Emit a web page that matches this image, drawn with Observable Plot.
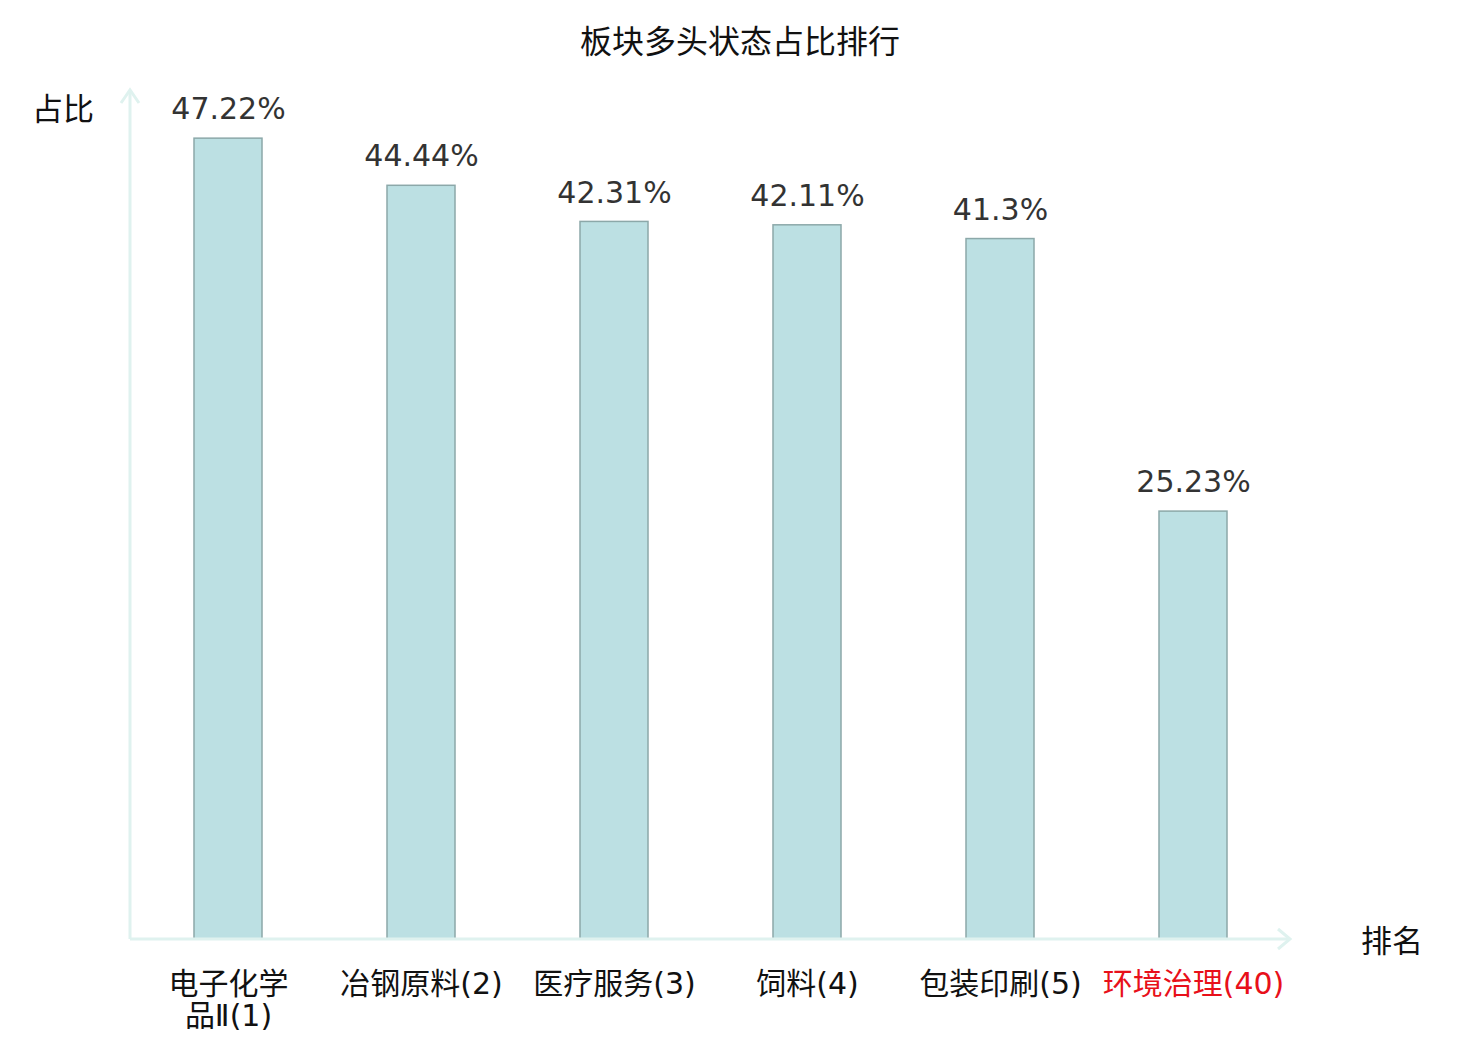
<!DOCTYPE html>
<html>
<head>
<meta charset="utf-8">
<script src="https://cdn.jsdelivr.net/npm/d3@7"></script>
<script src="https://cdn.jsdelivr.net/npm/@observablehq/plot@0.6"></script>
<style>
  html, body { margin: 0; padding: 0; background: #fff; }
  #title { height: 78px; display: flex; align-items: center; justify-content: center;
    font-family: "Noto Sans CJK SC", sans-serif; font-size: 32px; color: #111; width: 1480px; }
</style>
</head>
<body>
<div id="title">板块多头状态占比排行</div>
<div id="chart"></div>
<script>
const categories = ["电子化学品Ⅱ", "冶钢原料", "医疗服务", "饲料", "包装印刷", "环境治理"];
const ranks = [1, 2, 3, 4, 5, 40];
const tickLabels = ["电子化学\n品Ⅱ(1)", "冶钢原料(2)", "医疗服务(3)", "饲料(4)", "包装印刷(5)", "环境治理(40)"];
const values = [47.22, 44.44, 42.31, 42.11, 41.3, 25.23];
const valueLabels = ["47.22%", "44.44%", "42.31%", "42.11%", "41.3%", "25.23%"];

const data = categories.map((c, i) => ({
  name: c, rank: ranks[i], tick: tickLabels[i], value: values[i], label: valueLabels[i]
}));

const axisColor = "#dff2ef";

function axes(index, scales, values, dim) {
  const g = d3.create("svg:g");
  const x0 = dim.marginLeft, x1 = dim.width - dim.marginRight;
  const y0 = scales.y(0), yTop = scales.y(50) - 1;
  g.append("line").attr("x1", x0).attr("x2", x1).attr("y1", y0).attr("y2", y0)
    .attr("stroke", axisColor).attr("stroke-width", 3);
  g.append("line").attr("x1", x0).attr("x2", x0).attr("y1", y0).attr("y2", yTop)
    .attr("stroke", axisColor).attr("stroke-width", 3);
  g.append("path").attr("d", `M${x1 - 12},${y0 - 10}L${x1},${y0}L${x1 - 12},${y0 + 10}`)
    .attr("fill", "none").attr("stroke", axisColor).attr("stroke-width", 3);
  g.append("path").attr("d", `M${x0 - 9},${yTop + 13}L${x0},${yTop}L${x0 + 9},${yTop + 13}`)
    .attr("fill", "none").attr("stroke", axisColor).attr("stroke-width", 3);
  g.append("text").attr("x", x1 + 102).attr("y", y0 + 5).attr("text-anchor", "middle")
    .attr("dominant-baseline", "middle").attr("font-size", 31).attr("fill", "#111")
    .attr("font-family", "Noto Sans CJK SC").text("排名");
  g.append("text").attr("x", x0 - 67).attr("y", scales.y(50) + 21).attr("text-anchor", "middle")
    .attr("dominant-baseline", "middle").attr("font-size", 31).attr("fill", "#111")
    .attr("font-family", "Noto Sans CJK SC").text("占比");
  return g.node();
}

const chart = Plot.plot({
  width: 1480,
  height: 962,
  marginTop: 13,
  marginBottom: 101,
  marginLeft: 130,
  marginRight: 190,
  style: { fontFamily: "'DejaVu Sans', 'Noto Sans CJK SC', sans-serif", background: "#fff" },
  x: { domain: categories, paddingInner: 0.648, paddingOuter: 0.324, axis: null },
  y: { domain: [0, 50], axis: null },
  marks: [
    Plot.barY(data, { x: "name", y: "value", fill: "#bce0e3", stroke: "#8ca8a9", strokeWidth: 1.5 }),
    axes,
    Plot.text(data, { x: "name", y: "value", text: "label", dy: -29, lineAnchor: "middle",
      fontSize: 30, fill: "#333" }),
    Plot.text(data, { x: "name", y: 0, text: "tick", dy: 32, lineAnchor: "top", lineHeight: 1.07,
      fontSize: 30, fontFamily: "'DejaVu Sans', 'Noto Sans CJK SC', sans-serif", ariaLabel: "ticklabels",
      fill: d => d.rank === 40 ? "#e8101a" : "#111" })
  ]
});

// lighter look for the "(rank)" part of each tick label
const NS = "http://www.w3.org/2000/svg";
function splitNode(el) {
  const s = el.textContent;
  const i = s.indexOf("(");
  if (i < 0) return;
  el.textContent = "";
  const a = document.createElementNS(NS, "tspan");
  a.textContent = s.slice(0, i);
  const b = document.createElementNS(NS, "tspan");
  b.textContent = s.slice(i);
  b.setAttribute("font-weight", "200");
  b.setAttribute("fill-opacity", "0.78");
  el.appendChild(a); el.appendChild(b);
}
chart.querySelectorAll('g[aria-label="ticklabels"] text').forEach(t => {
  const spans = t.querySelectorAll("tspan");
  if (spans.length) spans.forEach(splitNode); else splitNode(t);
});
document.getElementById("chart").appendChild(chart);
</script>
</body>
</html>
